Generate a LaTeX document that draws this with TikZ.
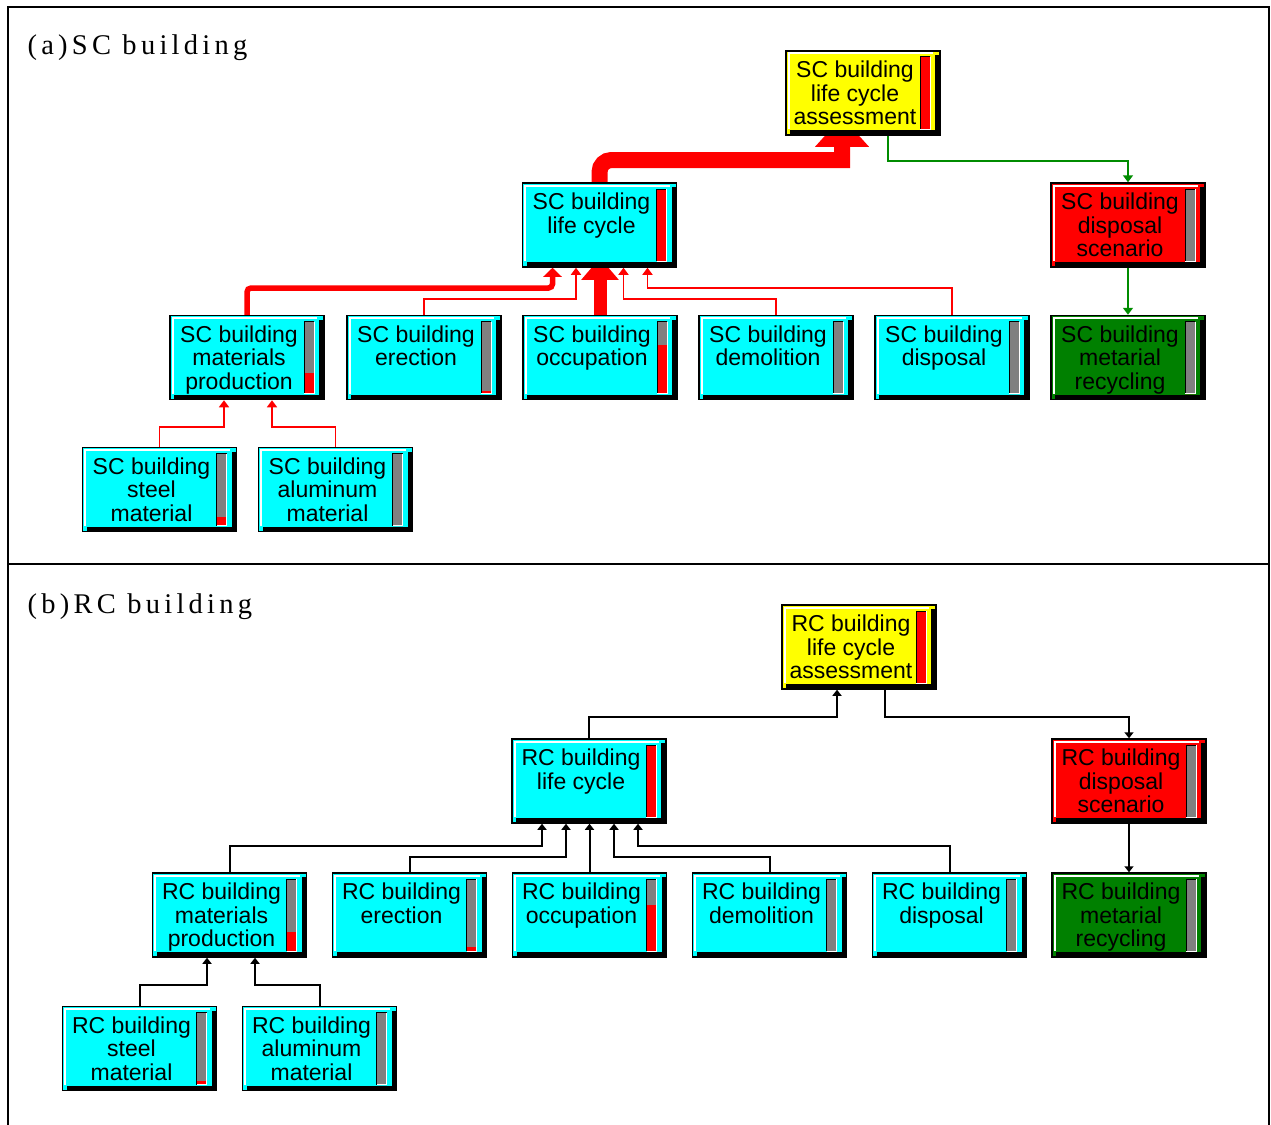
\documentclass[tikz,border=0pt]{standalone}
\usepackage{fontspec}
\usepackage{tikz}
\usetikzlibrary{calc,arrows.meta}
\newfontfamily\boxfont{Liberation Sans}
\newfontfamily\capfont{Liberation Serif}[LetterSpace=15]
\definecolor{boxcyan}{RGB}{0,255,255}
\definecolor{boxyellow}{RGB}{255,255,0}
\definecolor{boxred}{RGB}{255,0,0}
\definecolor{boxgreen}{RGB}{0,128,0}
\definecolor{bargray}{RGB}{128,128,128}
\definecolor{linkgreen}{RGB}{0,140,0}
\pgfdeclarelayer{background}
\pgfsetlayers{background,main}
\newcommand{\boxtxt}[3]{\makebox[142pt][l]{\parbox{126pt}{\centering\rule{0pt}{23.6pt}#1\\#2\\#3\strut}}}

\begin{document}
\begin{tikzpicture}[x=1pt, y=-1pt,
  gauge/.store in=\gaugelevel, gauge=0,
  model/.style={rectangle, draw=black, line width=1.5pt, inner sep=0pt,
    minimum width=154pt, minimum height=84pt,
    font=\boxfont\fontsize{23}{23.7}\selectfont,
    path picture={
      \coordinate (pne) at (path picture bounding box.north east);
      \coordinate (psw) at (path picture bounding box.south west);
      % raised edges
      \fill[black] ($(pne)+(-5pt,-4pt)$) rectangle (psw -| pne);
      \fill[black] ($(psw)+(4pt,0pt)$) rectangle ($(psw -| pne)+(0pt,5pt)$);
      \draw[white, line width=2pt] ($(psw)+(2.5pt,6pt)$) -- ($(psw |- pne)+(2.5pt,-2.5pt)$) -- ($(pne)+(-7pt,-2.5pt)$);
      % gauge bar
      \fill[bargray] ($(pne)+(-20pt,-6pt)$) rectangle ($(psw -| pne)+(-10pt,6pt)$);
      \fill[red] ($(psw -| pne)+(-20pt,6pt)$) rectangle ($(psw -| pne)+(-10pt,{6pt+72pt*\gaugelevel})$);
      \draw[black, line width=1pt] ($(psw -| pne)+(-20pt,6pt)$) |- ($(pne)+(-10pt,-6pt)$);
      \draw[white, line width=1pt] ($(pne)+(-10pt,-6pt)$) |- ($(psw -| pne)+(-20pt,6pt)$);
    }},
  link/.style={draw=red, line width=1.6pt, -{Triangle[length=7pt,width=10pt]}},
  glink/.style={draw=linkgreen, line width=1.6pt, -{Triangle[length=7pt,width=10pt]}},
  blink/.style={draw=black, line width=2pt, -{Triangle[length=6pt,width=9pt]}},
  caption/.style={anchor=base west, font=\capfont\fontsize{28.5}{30}\selectfont}]

  \useasboundingbox (0,0) rectangle (1271,1124);
  % frame
  \draw[line width=1.5pt] (8,7) rectangle (1269,1135);
  \draw[line width=1.5pt] (8,564) -- (1269,564);

  % (a) SC building
  \node[caption] (capA) at (24,55) {(a)SC building};
  \node[model, fill=boxyellow, gauge=1] (assessA) at (863,93) {\boxtxt{SC building}{life cycle}{assessment}};
  \node[model, fill=boxcyan, gauge=1] (cycleA) at (599.5,225) {\boxtxt{SC building}{life cycle}{}};
  \node[model, fill=boxred] (scenA) at (1128,225) {\boxtxt{SC building}{disposal}{scenario}};
  \node[model, fill=boxgreen] (recycA) at (1128,357.5) {\boxtxt{SC building}{metarial}{recycling}};
  \node[model, fill=boxcyan, gauge=0.28] (prodA) at (247,357.5) {\boxtxt{SC building}{materials}{production}};
  \node[model, fill=boxcyan, gauge=0.04] (erectA) at (424,357.5) {\boxtxt{SC building}{erection}{}};
  \node[model, fill=boxcyan, gauge=0.67] (occupA) at (600,357.5) {\boxtxt{SC building}{occupation}{}};
  \node[model, fill=boxcyan] (demolA) at (776,357.5) {\boxtxt{SC building}{demolition}{}};
  \node[model, fill=boxcyan] (dispA) at (952,357.5) {\boxtxt{SC building}{disposal}{}};
  \node[model, fill=boxcyan, gauge=0.12] (steelA) at (159.5,489.5) {\boxtxt{SC building}{steel}{material}};
  \node[model, fill=boxcyan] (alumA) at (335.5,489.5) {\boxtxt{SC building}{aluminum}{material}};

  \begin{pgfonlayer}{background}
    \draw[red, line width=16pt, -{Triangle[length=30pt,width=52pt]}, shorten >=-19pt, rounded corners=12pt]
      (cycleA.north) -- (cycleA.north |- 0,160) [sharp corners] -| ([xshift=-21pt]assessA.south);
    \draw[glink] ([xshift=25pt]assessA.south) -- ([xshift=25pt]assessA.south |- 0,161) -| (scenA.north);
    \draw[glink] (scenA.south) -- (recycA.north);
    \draw[red, line width=5.5pt, rounded corners=4pt, -{Triangle[length=9pt,width=18pt]}]
      (prodA.north) -- (prodA.north |- 0,288) -| ([xshift=-47pt]cycleA.south);
    \draw[link] (erectA.north) -- (erectA.north |- 0,299) -| ([xshift=-23.5pt]cycleA.south);
    \draw[red, line width=13pt, -{Triangle[length=22pt,width=36pt]}, shorten >=-10pt]
      (occupA.north) -- (occupA.north |- cycleA.south);
    \draw[link] (demolA.north) -- (demolA.north |- 0,299) -| ([xshift=24pt]cycleA.south);
    \draw[link] (dispA.north) -- (dispA.north |- 0,288) -| ([xshift=48pt]cycleA.south);
    \draw[link] (steelA.north) -- (steelA.north |- 0,427) -| ([xshift=-23pt]prodA.south);
    \draw[link] (alumA.north) -- (alumA.north |- 0,427) -| ([xshift=25pt]prodA.south);
  \end{pgfonlayer}

  % (b) RC building
  \node[caption] (capB) at (24,613) {(b)RC building};
  \node[model, fill=boxyellow, gauge=1] (assessB) at (859,647) {\boxtxt{RC building}{life cycle}{assessment}};
  \node[model, fill=boxcyan, gauge=1] (cycleB) at (589,781) {\boxtxt{RC building}{life cycle}{}};
  \node[model, fill=boxred] (scenB) at (1129,781) {\boxtxt{RC building}{disposal}{scenario}};
  \node[model, fill=boxgreen] (recycB) at (1129,915) {\boxtxt{RC building}{metarial}{recycling}};
  \node[model, fill=boxcyan, gauge=0.26] (prodB) at (229.5,915) {\boxtxt{RC building}{materials}{production}};
  \node[model, fill=boxcyan, gauge=0.05] (erectB) at (409.5,915) {\boxtxt{RC building}{erection}{}};
  \node[model, fill=boxcyan, gauge=0.64] (occupB) at (589.5,915) {\boxtxt{RC building}{occupation}{}};
  \node[model, fill=boxcyan] (demolB) at (769.5,915) {\boxtxt{RC building}{demolition}{}};
  \node[model, fill=boxcyan] (dispB) at (949.5,915) {\boxtxt{RC building}{disposal}{}};
  \node[model, fill=boxcyan, gauge=0.05] (steelB) at (139.5,1048.5) {\boxtxt{RC building}{steel}{material}};
  \node[model, fill=boxcyan] (alumB) at (319.5,1048.5) {\boxtxt{RC building}{aluminum}{material}};

  \begin{pgfonlayer}{background}
    \draw[blink] (cycleB.north) -- (cycleB.north |- 0,717) -| ([xshift=-22pt]assessB.south);
    \draw[blink] ([xshift=26pt]assessB.south) -- ([xshift=26pt]assessB.south |- 0,717) -| (scenB.north);
    \draw[blink] (scenB.south) -- (recycB.north);
    \draw[blink] (prodB.north) -- (prodB.north |- 0,846) -| ([xshift=-47pt]cycleB.south);
    \draw[blink] (erectB.north) -- (erectB.north |- 0,857) -| ([xshift=-23pt]cycleB.south);
    \draw[blink] (occupB.north) -- (occupB.north |- cycleB.south);
    \draw[blink] (demolB.north) -- (demolB.north |- 0,857) -| ([xshift=25pt]cycleB.south);
    \draw[blink] (dispB.north) -- (dispB.north |- 0,846) -| ([xshift=49pt]cycleB.south);
    \draw[blink] (steelB.north) -- (steelB.north |- 0,985) -| ([xshift=-22.5pt]prodB.south);
    \draw[blink] (alumB.north) -- (alumB.north |- 0,985) -| ([xshift=25.5pt]prodB.south);
  \end{pgfonlayer}
\end{tikzpicture}
\end{document}
